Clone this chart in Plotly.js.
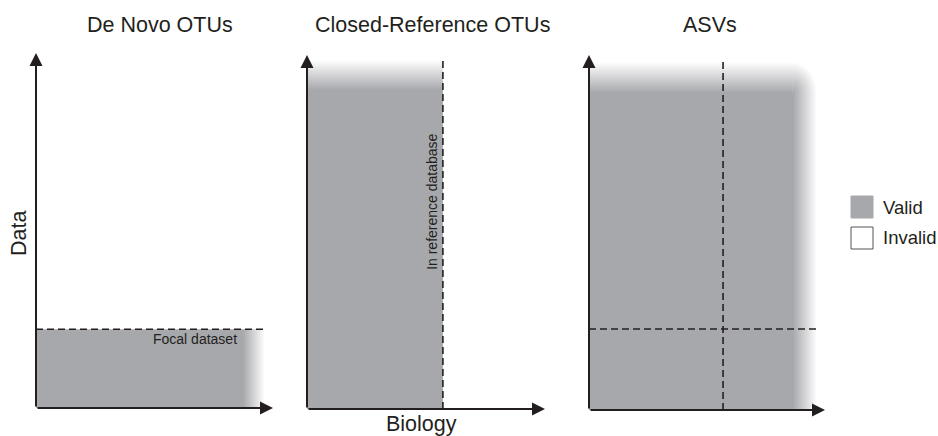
<!DOCTYPE html>
<html>
<head>
<meta charset="utf-8">
<script src="https://cdn.plot.ly/plotly-3.0.1.min.js"></script>
<style>html,body{margin:0;padding:0;background:#fff;}#chart{width:938px;height:436px;}</style>
</head>
<body>
<div id="chart"></div>
<script>
// ---- data (conceptual units, each panel axis runs 0..1 up to the arrow tip) ----
const panelTitles = ['De Novo OTUs', 'Closed-Reference OTUs', 'ASVs'];
const axisTitleX = 'Biology';
const axisTitleY = 'Data';
const legendLabels = ['Valid', 'Invalid'];

// De Novo OTUs: valid only inside the focal dataset
const denovoExtentX = [0, 0.966];   // biology covered (fades out after fade start)
const denovoFadeX = 0.873;
const denovoFocalY = 0.222;         // focal dataset level

// Closed-reference OTUs: valid only for biology in reference database
const closedRefX = 0.571;           // edge of reference database
const closedTopY = 0.986;
const closedFadeY = 0.901;

// ASVs: valid everywhere
const asvRefX = 0.568;
const asvFocalY = 0.228;
const asvRightX = 0.966;
const asvFadeX = 0.864;
const asvTopY = 0.98;
const asvFadeY = 0.893;

const panelLabels = ['Focal dataset', 'In reference database'];

// ---- style ----
const W = 938, H = 436;
const GRAY = 'rgb(167,168,172)';
const CLEAR = 'rgba(167,168,172,0)';
const INK = '#231f20';
const FONT = 'Liberation Sans, Arial, Helvetica, sans-serif';
// pixel boxes of panels [left, right, bottom, top]
const boxes = [[36, 273, 408, 53], [307, 545, 409, 55], [589, 825, 410, 55]];

const layout = {
  width: W, height: H,
  margin: {l: 0, r: 0, t: 0, b: 0},
  paper_bgcolor: '#fff', plot_bgcolor: 'rgba(0,0,0,0)',
  showlegend: false,
  font: {family: FONT, color: INK},
  annotations: [], shapes: []
};
boxes.forEach((b, i) => {
  const s = i === 0 ? '' : String(i + 1);
  const common = {range: [0, 1], visible: false, fixedrange: true, showgrid: false, zeroline: false};
  layout['xaxis' + s] = Object.assign({}, common, {domain: [b[0] / W, b[1] / W], anchor: 'y' + s});
  layout['yaxis' + s] = Object.assign({}, common, {domain: [1 - b[2] / H, 1 - b[3] / H], anchor: 'x' + s});
});

const traces = [];
function rect(x0, x1, y0, y1) { return {x: [x0, x1, x1, x0, x0], y: [y0, y0, y1, y1, y0]}; }
function fillTrace(xa, ya, pts, grad) {
  const t = {type: 'scatter', mode: 'none', x: pts.x, y: pts.y, fill: 'toself',
    xaxis: xa, yaxis: ya, hoverinfo: 'skip', fillcolor: GRAY};
  if (grad) t.fillgradient = grad;
  return t;
}
function dashTrace(xa, ya, x, y) {
  return {type: 'scatter', mode: 'lines', x: x, y: y, xaxis: xa, yaxis: ya, hoverinfo: 'skip',
    line: {color: INK, width: 1.6, dash: '7px,4px'}};
}

// Panel 1
traces.push(fillTrace('x', 'y', rect(denovoExtentX[0], denovoExtentX[1], 0, denovoFocalY),
  {type: 'horizontal', colorscale: [[0, GRAY], [denovoFadeX / denovoExtentX[1], GRAY], [1, CLEAR]]}));
traces.push(dashTrace('x', 'y', denovoExtentX, [denovoFocalY, denovoFocalY]));

// Panel 2
traces.push(fillTrace('x2', 'y2', rect(0, closedRefX, 0, closedTopY),
  {type: 'vertical', colorscale: [[0, GRAY], [closedFadeY / closedTopY, GRAY], [1, CLEAR]]}));
traces.push(dashTrace('x2', 'y2', [closedRefX, closedRefX], [0, closedTopY]));

// Panel 3
traces.push(fillTrace('x3', 'y3', rect(0, asvFadeX, 0, asvTopY),
  {type: 'vertical', colorscale: [[0, GRAY], [asvFadeY / asvTopY, GRAY], [1, CLEAR]]}));
traces.push(fillTrace('x3', 'y3', rect(0, asvRightX, 0, asvFadeY),
  {type: 'horizontal', colorscale: [[0, GRAY], [asvFadeX / asvRightX, GRAY], [1, CLEAR]]}));
(function () {
  const cx = asvFadeX, cy = asvFadeY, rx = asvRightX - asvFadeX, ry = asvTopY - asvFadeY;
  const pts = {
    x: [cx, cx + rx, cx + rx, cx, cx, cx - rx, cx, cx, cx],
    y: [cy, cy, cy + ry, cy + ry, cy, cy, cy, cy - ry, cy]
  };
  traces.push(fillTrace('x3', 'y3', pts, {type: 'radial', colorscale: [[0, GRAY], [1, CLEAR]]}));
})();
traces.push(dashTrace('x3', 'y3', [asvRefX, asvRefX], [0, asvTopY]));
traces.push(dashTrace('x3', 'y3', [0, asvRightX], [asvFocalY, asvFocalY]));

// Axis arrows
boxes.forEach((b, i) => {
  const s = i === 0 ? '' : String(i + 1);
  const base = {text: '', showarrow: true, arrowhead: 2, arrowsize: 1.3, arrowwidth: 2,
    arrowcolor: INK, standoff: 0, startstandoff: 0, xref: 'x' + s, yref: 'y' + s, axref: 'x' + s, ayref: 'y' + s};
  layout.annotations.push(Object.assign({}, base, {x: 1, y: 0, ax: 0, ay: 0}));
  layout.annotations.push(Object.assign({}, base, {x: 0, y: 1, ax: 0, ay: 0}));
});

// Panel titles
const titleX = [160, 432, 710];
panelTitles.forEach((t, i) => {
  layout.annotations.push({text: t, xref: 'paper', yref: 'paper', x: titleX[i] / W, y: 1 - 25 / H,
    xanchor: 'center', yanchor: 'middle', showarrow: false, font: {size: 21.5, color: INK, family: FONT}});
});
layout.annotations.push({text: axisTitleY, xref: 'paper', yref: 'paper', x: 19 / W, y: 1 - 234 / H,
  textangle: -90, xanchor: 'center', yanchor: 'middle', showarrow: false, font: {size: 21.5, color: INK, family: FONT}});
layout.annotations.push({text: axisTitleX, xref: 'paper', yref: 'paper', x: 421 / W, y: 1 - 424 / H,
  xanchor: 'center', yanchor: 'middle', showarrow: false, font: {size: 21.5, color: INK, family: FONT}});

// In-panel labels
layout.annotations.push({text: panelLabels[0], xref: 'x', yref: 'y', x: 0.67, y: 0.194,
  xanchor: 'center', yanchor: 'middle', showarrow: false, font: {size: 14, color: INK, family: FONT}});
layout.annotations.push({text: panelLabels[1], xref: 'x2', yref: 'y2', x: 0.525, y: 0.585, textangle: -90,
  xanchor: 'center', yanchor: 'middle', showarrow: false, font: {size: 14, color: INK, family: FONT}});

// Legend
const legY = [207, 238];
const legFill = [GRAY, '#ffffff'];
const legLine = [GRAY, '#555555'];
legendLabels.forEach((l, i) => {
  layout.shapes.push({type: 'rect', xref: 'paper', yref: 'paper', x0: 851 / W, x1: 873 / W,
    y0: 1 - (legY[i] - 11) / H, y1: 1 - (legY[i] + 11) / H, fillcolor: legFill[i],
    line: {color: legLine[i], width: 1}});
  layout.annotations.push({text: l, xref: 'paper', yref: 'paper', x: 881 / W, y: 1 - legY[i] / H,
    xanchor: 'left', yanchor: 'middle', showarrow: false, font: {size: 18.5, color: INK, family: FONT}});
});

Plotly.newPlot('chart', traces, layout, {staticPlot: true, displayModeBar: false});
</script>
</body>
</html>
